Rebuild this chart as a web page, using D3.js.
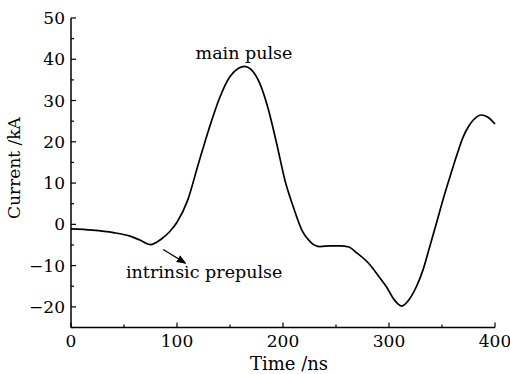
<!DOCTYPE html>
<html>
<head>
<meta charset="utf-8">
<script src="https://cdn.jsdelivr.net/npm/d3@7"></script>
<style>
  body { margin: 0; background: #fff; }
  text { font-family: "DejaVu Serif", "Liberation Serif", serif; fill: #000; }
</style>
</head>
<body>
<svg id="chart" width="510" height="374"></svg>
<script>
// waveform: time (ns) and current (kA)
var times = [0, 20, 40, 55, 65, 75, 85, 93, 100, 110, 120, 130, 140, 150, 158, 164, 170, 178, 186, 194,
  202, 210, 218, 226, 235, 245, 254, 262, 270, 282, 290, 298, 305, 312, 319, 326, 332, 338, 345, 351,
  357.5, 364, 370, 375, 380, 387, 393, 400];
var current = [-1.1, -1.4, -2.0, -2.8, -3.8, -4.9, -3.6, -1.8, 0.5, 5.8, 14.5, 23, 30.5, 35.8, 37.8, 38.3, 37.5, 34.2, 28, 19.6,
  10.5, 4, -1.5, -4.3, -5.4, -5.2, -5.2, -5.5, -7, -9.8, -12.5, -15.3, -18.3, -19.8, -18.2, -15, -11.1, -5.8, 0.5, 6,
  11.5, 16.8, 21.2, 23.7, 25.4, 26.5, 26.0, 24.3];
var xTicks = [0, 100, 200, 300, 400];
var yTicks = [-20, -10, 0, 10, 20, 30, 40, 50];

var svg = d3.select("#chart");
var x = d3.scaleLinear().domain([0, 400]).range([71, 495]);
var y = d3.scaleLinear().domain([-25, 50]).range([327.5, 18]);

var fmt = function(d) { return d < 0 ? "\u2212" + Math.abs(d) : d; };

// bottom axis, ticks pointing inward
var xAxis = svg.append("g").attr("transform", "translate(0,327.5)");
xAxis.append("line").attr("x1", x(0)).attr("x2", x(400)).attr("stroke", "black").attr("stroke-width", 1.5);
xAxis.selectAll("line.minor").data(d3.range(0, 401, 50)).enter().append("line")
  .attr("class", "minor")
  .attr("x1", d => x(d)).attr("x2", d => x(d))
  .attr("y1", 0).attr("y2", d => d % 100 == 0 ? -5 : -3)
  .attr("stroke", "black").attr("stroke-width", 1.2);
xAxis.selectAll("text").data(xTicks).enter().append("text")
  .attr("x", d => x(d)).attr("y", 19)
  .attr("text-anchor", "middle").attr("font-size", 17)
  .text(fmt);

// left axis
var yAxis = svg.append("g").attr("transform", "translate(71,0)");
yAxis.append("line").attr("y1", y(-25)).attr("y2", y(50)).attr("stroke", "black").attr("stroke-width", 1.5);
yAxis.selectAll("line.minor").data(d3.range(-25, 51, 5)).enter().append("line")
  .attr("class", "minor")
  .attr("y1", d => y(d)).attr("y2", d => y(d))
  .attr("x1", 0).attr("x2", d => d % 10 == 0 ? 5 : 3)
  .attr("stroke", "black").attr("stroke-width", 1.2);
yAxis.selectAll("text").data(yTicks).enter().append("text")
  .attr("x", -6).attr("y", d => y(d) + 6)
  .attr("text-anchor", "end").attr("font-size", 17)
  .text(fmt);

svg.append("text").attr("x", 289).attr("y", 370).attr("text-anchor", "middle")
  .attr("font-size", 18).text("Time /ns");
svg.append("text").attr("transform", "translate(20,168) rotate(-90)").attr("text-anchor", "middle")
  .attr("font-size", 17).text("Current /kA");

// waveform
var line = d3.line()
  .curve(d3.curveMonotoneX)
  .x((d, i) => x(times[i]))
  .y(d => y(d));
svg.append("path")
  .datum(current)
  .attr("d", line)
  .attr("fill", "none")
  .attr("stroke", "black")
  .attr("stroke-width", 1.7);

// annotations
svg.append("text").attr("x", 244).attr("y", 59).attr("text-anchor", "middle")
  .attr("font-size", 17.5).text("main pulse");
svg.append("text").attr("x", 126).attr("y", 278)
  .attr("font-size", 17.5).text("intrinsic prepulse");

svg.append("defs").append("marker")
  .attr("id", "head").attr("viewBox", "0 0 10 10")
  .attr("refX", 9).attr("refY", 5)
  .attr("markerWidth", 8).attr("markerHeight", 8)
  .attr("orient", "auto")
  .append("path").attr("d", "M0,1 L10,5 L0,9 Z").attr("fill", "black");
svg.append("line")
  .attr("x1", x(87)).attr("y1", y(-6.1))
  .attr("x2", x(108)).attr("y2", y(-9.4))
  .attr("stroke", "black").attr("stroke-width", 1.2)
  .attr("marker-end", "url(#head)");
</script>
</body>
</html>
